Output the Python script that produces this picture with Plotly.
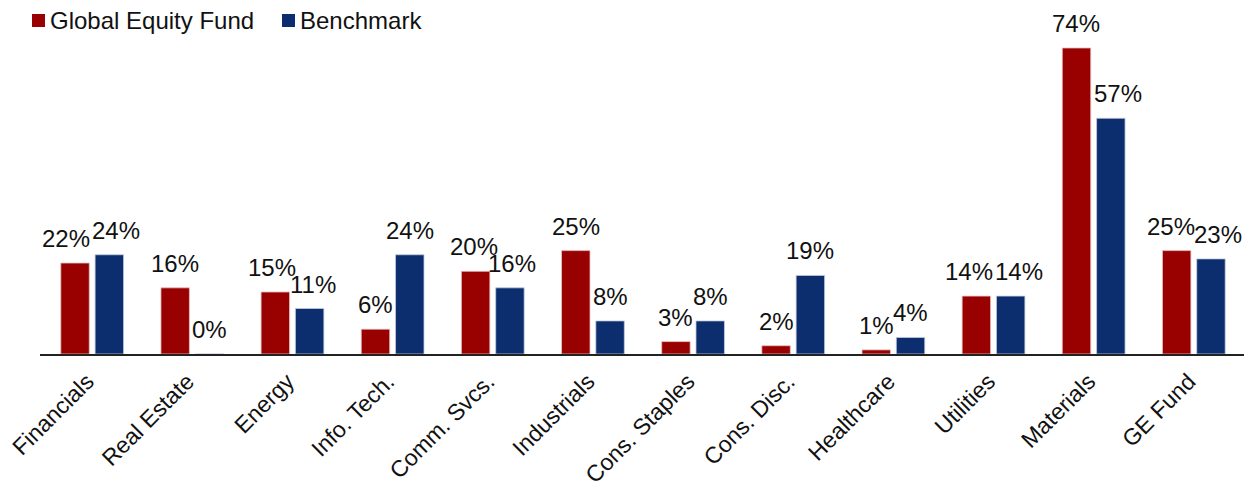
import plotly.graph_objects as go

sectors = ["Financials", "Real Estate", "Energy", "Info. Tech.", "Comm. Svcs.", "Industrials",
           "Cons. Staples", "Cons. Disc.", "Healthcare", "Utilities", "Materials", "GE Fund"]
fund = [22, 16, 15, 6, 20, 25, 3, 2, 1, 14, 74, 25]
benchmark = [24, 0, 11, 24, 16, 8, 8, 19, 4, 14, 57, 23]

FONT = "Liberation Sans, Arial, sans-serif"
RED = "#990000"
NAVY = "#0c2d6e"
W, H = 1258, 487
ML, MR, MT, MB = 40, 14, 0, 133
BARGAP, GROUPGAP = 0.315, 0.17
YMAX = 85.6
LABEL_SIZE = 24

series = [("Global Equity Fund", fund, RED, "#e6c4c4"),
          ("Benchmark", benchmark, NAVY, "#c4cce0")]

# horizontal nudges (px) that keep neighbouring value labels from colliding
label_nudge = {
    (0, "Financials"): -9, (1, "Financials"): 7,
    (0, "Energy"): -3, (1, "Energy"): 3,
    (0, "Comm. Svcs."): -2, (1, "Comm. Svcs."): 2,
    (0, "Utilities"): -7, (1, "Utilities"): 8,
    (1, "Materials"): 7,
    (0, "GE Fund"): -6, (1, "GE Fund"): 7,
}

fig = go.Figure()
for name, vals, col, edge in series:
    fig.add_trace(go.Bar(
        name=name, x=sectors, y=vals, showlegend=False,
        marker=dict(color=col, line=dict(color=edge, width=0.8)),
    ))

# value labels above each bar, shifted to the centre of its slot in the group
plot_w = W - ML - MR
slot = plot_w / len(sectors) * (1 - BARGAP) / len(series)
annotations = []
for i, (name, vals, col, edge) in enumerate(series):
    shift = (i - (len(series) - 1) / 2) * slot
    for cat, v in zip(sectors, vals):
        annotations.append(dict(
            x=cat, y=v, xref="x", yref="y", text=f"{v}%", showarrow=False,
            xanchor="center", yanchor="bottom",
            xshift=shift + label_nudge.get((i, cat), 0), yshift=9,
            font=dict(size=LABEL_SIZE, color="#111111", family=FONT),
        ))

# legend drawn as swatches + labels at the top-left corner
def px_x(p):
    return (p - ML) / plot_w

def px_y(p):
    return (H - MB - p) / (H - MB - MT)

shapes = []
legend_items = [("Global Equity Fund", RED, 32), ("Benchmark", NAVY, 282)]
for label, col, left in legend_items:
    shapes.append(dict(type="rect", xref="paper", yref="paper",
                       x0=px_x(left), x1=px_x(left + 13), y0=px_y(27), y1=px_y(14),
                       fillcolor=col, line=dict(width=0)))
    annotations.append(dict(x=px_x(left + 16), y=px_y(20), xref="paper", yref="paper",
                            text=label, showarrow=False, xanchor="left", yanchor="middle",
                            font=dict(size=LABEL_SIZE, color="#111111", family=FONT)))

fig.update_layout(
    width=W, height=H,
    margin=dict(l=ML, r=MR, t=MT, b=MB),
    paper_bgcolor="white", plot_bgcolor="white",
    barmode="group", bargap=BARGAP, bargroupgap=GROUPGAP,
    font=dict(family=FONT, size=23, color="#111111"),
    showlegend=False,
    annotations=annotations, shapes=shapes,
)
fig.update_xaxes(showline=True, linecolor="#222222", linewidth=2, tickangle=-45,
                 ticks="", showgrid=False, ticklabelstandoff=3, ticklabelshift=-5,
                 automargin=False, tickfont=dict(size=23, color="#111111"))
fig.update_yaxes(range=[0, YMAX], visible=False, showgrid=False, automargin=False)

fig.write_html("out.html")
